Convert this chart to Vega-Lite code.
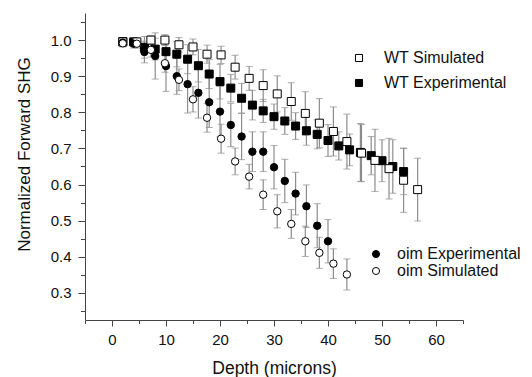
{
  "$schema": "https://vega.github.io/schema/vega-lite/v6.json",
  "width": 378,
  "height": 307,
  "autosize": "none",
  "padding": {"left": 85, "top": 13, "right": 69, "bottom": 57},
  "background": "white",
  "config": {
    "view": {"stroke": null},
    "font": "Liberation Sans",
    "axis": {"labelFont": "Liberation Sans", "titleFont": "Liberation Sans", "grid": false, "domainColor": "#444", "tickColor": "#444", "labelColor": "#111", "titleColor": "#111", "titleFontWeight": "normal"},
    "legend": {"labelFont": "Liberation Sans", "labelColor": "#111"}
  },
  "datasets": {
    "d": [
      {"series": "WT Experimental", "depth": 2, "value": 0.996, "err": 0.01},
      {"series": "WT Experimental", "depth": 4, "value": 0.995, "err": 0.01},
      {"series": "WT Experimental", "depth": 6, "value": 0.98, "err": 0.03},
      {"series": "WT Experimental", "depth": 8, "value": 0.975, "err": 0.03},
      {"series": "WT Experimental", "depth": 10, "value": 0.968, "err": 0.03},
      {"series": "WT Experimental", "depth": 12, "value": 0.961, "err": 0.035},
      {"series": "WT Experimental", "depth": 14, "value": 0.947, "err": 0.04},
      {"series": "WT Experimental", "depth": 16, "value": 0.929, "err": 0.045},
      {"series": "WT Experimental", "depth": 18, "value": 0.906, "err": 0.04},
      {"series": "WT Experimental", "depth": 20, "value": 0.885, "err": 0.048},
      {"series": "WT Experimental", "depth": 22, "value": 0.867, "err": 0.038},
      {"series": "WT Experimental", "depth": 24, "value": 0.839, "err": 0.041},
      {"series": "WT Experimental", "depth": 26, "value": 0.82, "err": 0.041},
      {"series": "WT Experimental", "depth": 28, "value": 0.804, "err": 0.032},
      {"series": "WT Experimental", "depth": 30, "value": 0.788, "err": 0.035},
      {"series": "WT Experimental", "depth": 32, "value": 0.776, "err": 0.037},
      {"series": "WT Experimental", "depth": 34, "value": 0.762, "err": 0.037},
      {"series": "WT Experimental", "depth": 36, "value": 0.749, "err": 0.04},
      {"series": "WT Experimental", "depth": 38, "value": 0.739, "err": 0.04},
      {"series": "WT Experimental", "depth": 40, "value": 0.722, "err": 0.044},
      {"series": "WT Experimental", "depth": 42, "value": 0.707, "err": 0.039},
      {"series": "WT Experimental", "depth": 44, "value": 0.696, "err": 0.044},
      {"series": "WT Experimental", "depth": 46, "value": 0.689, "err": 0.08},
      {"series": "WT Experimental", "depth": 48, "value": 0.68, "err": 0.053},
      {"series": "WT Experimental", "depth": 50, "value": 0.666, "err": 0.058},
      {"series": "WT Experimental", "depth": 52, "value": 0.65, "err": 0.074},
      {"series": "WT Experimental", "depth": 54, "value": 0.636, "err": 0.064},
      {"series": "WT Simulated", "depth": 2, "value": 0.995, "err": 0.008},
      {"series": "WT Simulated", "depth": 4.6, "value": 0.995, "err": 0.01},
      {"series": "WT Simulated", "depth": 7.2, "value": 1.0, "err": 0.012},
      {"series": "WT Simulated", "depth": 9.8, "value": 1.0, "err": 0.015},
      {"series": "WT Simulated", "depth": 12.4, "value": 0.987, "err": 0.02},
      {"series": "WT Simulated", "depth": 15, "value": 0.981, "err": 0.022},
      {"series": "WT Simulated", "depth": 17.6, "value": 0.961, "err": 0.025},
      {"series": "WT Simulated", "depth": 20.2, "value": 0.959, "err": 0.024},
      {"series": "WT Simulated", "depth": 22.8, "value": 0.925, "err": 0.033},
      {"series": "WT Simulated", "depth": 25.4, "value": 0.894, "err": 0.033},
      {"series": "WT Simulated", "depth": 28, "value": 0.874, "err": 0.044},
      {"series": "WT Simulated", "depth": 30.6, "value": 0.851, "err": 0.05},
      {"series": "WT Simulated", "depth": 33.2, "value": 0.83, "err": 0.052},
      {"series": "WT Simulated", "depth": 35.8, "value": 0.797, "err": 0.06},
      {"series": "WT Simulated", "depth": 38.4, "value": 0.77, "err": 0.068},
      {"series": "WT Simulated", "depth": 41, "value": 0.747, "err": 0.068},
      {"series": "WT Simulated", "depth": 43.5, "value": 0.719, "err": 0.076},
      {"series": "WT Simulated", "depth": 46.2, "value": 0.687, "err": 0.079},
      {"series": "WT Simulated", "depth": 48.7, "value": 0.667, "err": 0.086},
      {"series": "WT Simulated", "depth": 51.3, "value": 0.644, "err": 0.084},
      {"series": "WT Simulated", "depth": 54, "value": 0.612, "err": 0.089},
      {"series": "WT Simulated", "depth": 56.6, "value": 0.586, "err": 0.087},
      {"series": "oim Experimental", "depth": 2, "value": 0.993, "err": 0.01},
      {"series": "oim Experimental", "depth": 4, "value": 0.99, "err": 0.012},
      {"series": "oim Experimental", "depth": 6, "value": 0.967, "err": 0.03},
      {"series": "oim Experimental", "depth": 8, "value": 0.956, "err": 0.064},
      {"series": "oim Experimental", "depth": 10, "value": 0.928, "err": 0.07},
      {"series": "oim Experimental", "depth": 12, "value": 0.9, "err": 0.05},
      {"series": "oim Experimental", "depth": 14, "value": 0.878, "err": 0.08},
      {"series": "oim Experimental", "depth": 16, "value": 0.854, "err": 0.07},
      {"series": "oim Experimental", "depth": 18, "value": 0.828, "err": 0.07},
      {"series": "oim Experimental", "depth": 20, "value": 0.802, "err": 0.07},
      {"series": "oim Experimental", "depth": 22, "value": 0.765, "err": 0.06},
      {"series": "oim Experimental", "depth": 24, "value": 0.733, "err": 0.064},
      {"series": "oim Experimental", "depth": 26, "value": 0.691, "err": 0.055},
      {"series": "oim Experimental", "depth": 28, "value": 0.691, "err": 0.055},
      {"series": "oim Experimental", "depth": 30, "value": 0.648, "err": 0.06},
      {"series": "oim Experimental", "depth": 32, "value": 0.61, "err": 0.06},
      {"series": "oim Experimental", "depth": 34, "value": 0.575, "err": 0.059},
      {"series": "oim Experimental", "depth": 36, "value": 0.54, "err": 0.059},
      {"series": "oim Experimental", "depth": 38, "value": 0.486, "err": 0.061},
      {"series": "oim Experimental", "depth": 40, "value": 0.443, "err": 0.06},
      {"series": "oim Simulated", "depth": 2, "value": 0.991, "err": 0.01},
      {"series": "oim Simulated", "depth": 4.6, "value": 0.99, "err": 0.012},
      {"series": "oim Simulated", "depth": 7.2, "value": 0.973, "err": 0.02},
      {"series": "oim Simulated", "depth": 9.8, "value": 0.936, "err": 0.025},
      {"series": "oim Simulated", "depth": 12.4, "value": 0.89, "err": 0.03},
      {"series": "oim Simulated", "depth": 15, "value": 0.836, "err": 0.035},
      {"series": "oim Simulated", "depth": 17.6, "value": 0.785, "err": 0.04},
      {"series": "oim Simulated", "depth": 20.2, "value": 0.727, "err": 0.04},
      {"series": "oim Simulated", "depth": 22.8, "value": 0.664, "err": 0.037},
      {"series": "oim Simulated", "depth": 25.4, "value": 0.622, "err": 0.034},
      {"series": "oim Simulated", "depth": 28, "value": 0.572, "err": 0.041},
      {"series": "oim Simulated", "depth": 30.6, "value": 0.526, "err": 0.046},
      {"series": "oim Simulated", "depth": 33.2, "value": 0.491, "err": 0.04},
      {"series": "oim Simulated", "depth": 35.8, "value": 0.443, "err": 0.042},
      {"series": "oim Simulated", "depth": 38.4, "value": 0.411, "err": 0.043},
      {"series": "oim Simulated", "depth": 41, "value": 0.381, "err": 0.041},
      {"series": "oim Simulated", "depth": 43.5, "value": 0.351, "err": 0.043}
    ]
  },
  "data": {"name": "d"},
  "layer": [
    {
      "mark": {"type": "errorbar", "ticks": {"size": 7, "color": "#8c8c8c", "strokeWidth": 1}, "rule": {"color": "#8c8c8c", "strokeWidth": 1.2}},
      "encoding": {
        "x": {"field": "depth", "type": "quantitative", "scale": {"domain": [-5, 65], "nice": false, "zero": false},
          "axis": {"values": [0, 10, 20, 30, 40, 50, 60], "format": "d", "tickSize": 6, "labelFontSize": 15, "labelPadding": 6, "title": "Depth (microns)", "titleFontSize": 17.5, "titleY": 39, "titleX": 189}},
        "y": {"field": "value", "type": "quantitative", "scale": {"domain": [0.225, 1.075], "nice": false, "zero": false},
          "axis": {"values": [0.3, 0.4, 0.5, 0.6, 0.7, 0.8, 0.9, 1.0], "format": ".1f", "tickSize": 7, "labelFontSize": 15, "labelPadding": 7, "title": "Normalized Forward SHG", "titleFontSize": 17, "titleX": -52, "titleY": 141}},
        "yError": {"field": "err"}
      }
    },
    {
      "transform": [{"filter": "indexof(datum.series, 'WT') == 0"}],
      "mark": {"type": "square", "size": 64, "stroke": "black", "strokeWidth": 1, "opacity": 1},
      "encoding": {
        "x": {"field": "depth", "type": "quantitative",
          "axis": {"orient": "bottom", "values": [-5, 5, 15, 25, 35, 45, 55, 65], "tickSize": 3.5, "labels": false, "domain": false, "title": null}},
        "y": {"field": "value", "type": "quantitative",
          "axis": {"orient": "left", "values": [0.25, 0.35, 0.45, 0.55, 0.65, 0.75, 0.85, 0.95, 1.05], "tickSize": 4.5, "labels": false, "domain": false, "title": null}},
        "fill": {"field": "series", "type": "nominal",
          "scale": {"domain": ["WT Simulated", "WT Experimental"], "range": ["white", "black"]},
          "legend": {"title": null, "orient": "none", "legendX": 266, "legendY": 37, "symbolType": "square", "symbolSize": 50, "symbolStrokeColor": "black", "symbolStrokeWidth": 1, "labelFontSize": 16, "labelOffset": 17, "rowPadding": 9}}
      }
    },
    {
      "transform": [{"filter": "indexof(datum.series, 'oim') == 0"}],
      "mark": {"type": "circle", "size": 55, "stroke": "black", "strokeWidth": 1, "opacity": 1},
      "encoding": {
        "x": {"field": "depth", "type": "quantitative", "axis": null},
        "y": {"field": "value", "type": "quantitative", "axis": null},
        "fill": {"field": "series", "type": "nominal",
          "scale": {"domain": ["oim Experimental", "oim Simulated"], "range": ["black", "white"]},
          "legend": {"title": null, "orient": "none", "legendX": 283, "legendY": 233, "symbolType": "circle", "symbolSize": 50, "symbolStrokeColor": "black", "symbolStrokeWidth": 1, "labelFontSize": 16, "labelOffset": 13, "rowPadding": 1}}
      }
    }
  ],
  "resolve": {"axis": {"x": "independent", "y": "independent"}, "scale": {"fill": "independent"}, "legend": {"fill": "independent"}}
}
